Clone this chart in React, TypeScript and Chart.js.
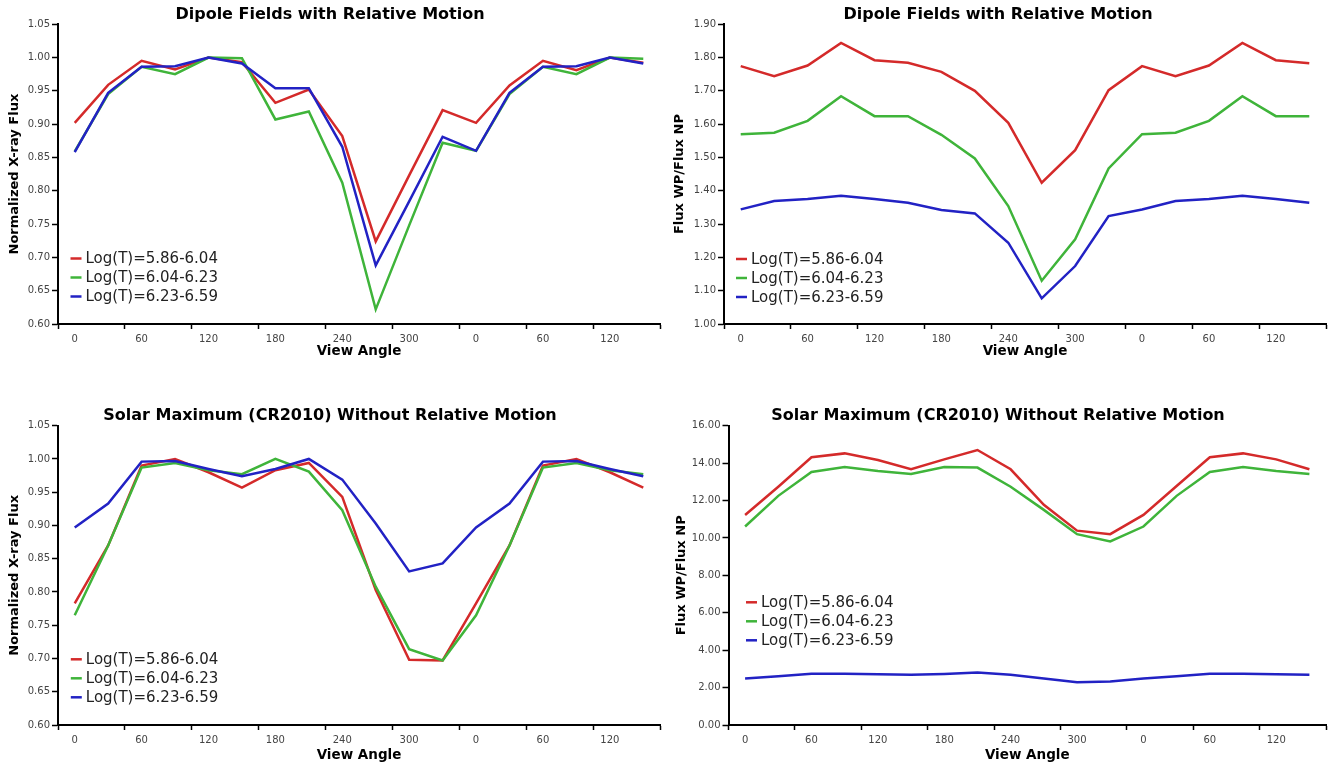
import React, { useEffect, useRef } from 'react';
import { Chart, registerables } from 'chart.js';

Chart.register(...registerables);
Chart.defaults.font.family = "'DejaVu Sans', Verdana, sans-serif";

// ---------- data ----------
const viewAngles = ['0', '30', '60', '90', '120', '150', '180', '210', '240', '270', '300', '330', '0', '30', '60', '90', '120', '150'];
const seriesLabels = ['Log(T)=5.86-6.04', 'Log(T)=6.04-6.23', 'Log(T)=6.23-6.59'];
const seriesColors = ['#d42a2a', '#3fb43a', '#2222c4'];

// Dipole fields with relative motion – normalized X-ray flux
const dipoleNormLow = [0.902, 0.959, 0.995, 0.982, 1.0, 0.993, 0.932, 0.952, 0.882, 0.724, 0.823, 0.921, 0.902, 0.958, 0.995, 0.981, 1.0, 0.992];
const dipoleNormMid = [0.859, 0.945, 0.986, 0.975, 1.0, 0.999, 0.907, 0.919, 0.812, 0.622, 0.748, 0.872, 0.86, 0.945, 0.986, 0.975, 1.0, 0.998];
const dipoleNormHigh = [0.858, 0.947, 0.986, 0.987, 1.0, 0.991, 0.954, 0.954, 0.866, 0.688, 0.784, 0.881, 0.86, 0.947, 0.986, 0.987, 1.0, 0.991];

// Dipole fields with relative motion – flux WP / flux NP
const dipoleRatioLow = [1.774, 1.744, 1.776, 1.844, 1.792, 1.784, 1.757, 1.7, 1.604, 1.424, 1.522, 1.702, 1.774, 1.744, 1.776, 1.844, 1.792, 1.783];
const dipoleRatioMid = [1.57, 1.574, 1.61, 1.684, 1.624, 1.624, 1.568, 1.497, 1.354, 1.13, 1.254, 1.467, 1.57, 1.574, 1.61, 1.684, 1.624, 1.624];
const dipoleRatioHigh = [1.344, 1.369, 1.375, 1.385, 1.375, 1.364, 1.342, 1.332, 1.244, 1.077, 1.174, 1.324, 1.344, 1.369, 1.375, 1.385, 1.375, 1.364];

// Solar maximum (CR2010) without relative motion – normalized X-ray flux
const solarNormLow = [0.783, 0.87, 0.99, 1.0, 0.98, 0.957, 0.983, 0.994, 0.943, 0.803, 0.698, 0.697, 0.783, 0.87, 0.99, 1.0, 0.98, 0.957];
const solarNormMid = [0.765, 0.87, 0.987, 0.994, 0.983, 0.977, 1.0, 0.981, 0.923, 0.808, 0.714, 0.697, 0.765, 0.87, 0.987, 0.994, 0.983, 0.977];
const solarNormHigh = [0.897, 0.933, 0.996, 0.997, 0.985, 0.974, 0.985, 1.0, 0.969, 0.903, 0.831, 0.843, 0.897, 0.933, 0.996, 0.997, 0.985, 0.974];

// Solar maximum (CR2010) without relative motion – flux WP / flux NP
const solarRatioLow = [11.23, 12.74, 14.31, 14.52, 14.17, 13.67, 14.2, 14.7, 13.67, 11.77, 10.39, 10.2, 11.23, 12.78, 14.31, 14.52, 14.2, 13.67];
const solarRatioMid = [10.61, 12.25, 13.53, 13.79, 13.58, 13.42, 13.79, 13.76, 12.74, 11.5, 10.2, 9.81, 10.61, 12.25, 13.53, 13.79, 13.58, 13.42];
const solarRatioHigh = [2.49, 2.6, 2.74, 2.74, 2.71, 2.69, 2.73, 2.8, 2.69, 2.49, 2.28, 2.33, 2.49, 2.6, 2.74, 2.74, 2.71, 2.69];

// ---------- legend drawn inside the plot area ----------
const insideLegendPlugin = {
  id: 'insideLegend',
  afterDraw(chart: any, _args: any, opts: any) {
    const { ctx, chartArea } = chart;
    ctx.save();
    ctx.font = "15px 'DejaVu Sans', Verdana, sans-serif";
    ctx.textBaseline = 'middle';
    ctx.textAlign = 'left';
    chart.data.datasets.forEach((ds: any, i: number) => {
      const x = chartArea.left + opts.dx;
      const y = chartArea.bottom + opts.dy + i * 19;
      ctx.strokeStyle = ds.borderColor;
      ctx.lineWidth = 2.5;
      ctx.beginPath();
      ctx.moveTo(x, y);
      ctx.lineTo(x + 11, y);
      ctx.stroke();
      ctx.fillStyle = '#222';
      ctx.fillText(ds.label, x + 15, y + 1);
    });
    ctx.restore();
  },
};

interface PanelProps {
  left: number;
  top: number;
  width: number;
  height: number;
  title: string;
  yTitle: string;
  series: number[][];
  yMin: number;
  yMax: number;
  yStep: number;
  yWidth: number;
  padRight: number;
  titleTop: number;
  titleBottom: number;
  xHeight: number;
  xTitleBottom: number;
  yTitlePad: number;
  legendDx: number;
  legendDy: number;
}

function Panel(p: PanelProps) {
  const ref = useRef<HTMLCanvasElement>(null);
  useEffect(() => {
    const chart = new Chart(ref.current as HTMLCanvasElement, {
      type: 'line',
      data: {
        labels: viewAngles,
        datasets: p.series.map((s, i) => ({
          label: seriesLabels[i],
          data: s,
          borderColor: seriesColors[i],
          backgroundColor: seriesColors[i],
          borderWidth: 2.5,
          pointRadius: 0,
          pointHoverRadius: 0,
          tension: 0,
          fill: false,
          order: 3 - i,
        })),
      },
      options: {
        animation: false,
        responsive: false,
        events: [],
        layout: { padding: { left: 0, right: p.padRight, top: 0, bottom: 0 } },
        plugins: {
          legend: { display: false },
          tooltip: { enabled: false },
          title: {
            display: true,
            text: p.title,
            color: '#000',
            font: { size: 16, weight: 'bold' },
            padding: { top: p.titleTop, bottom: p.titleBottom },
          },
          insideLegend: { dx: p.legendDx, dy: p.legendDy },
        } as any,
        scales: {
          x: {
            type: 'category',
            offset: true,
            afterFit: (s: any) => {
              s.height = p.xHeight;
            },
            grid: {
              offset: true,
              drawOnChartArea: false,
              drawTicks: true,
              tickLength: 5,
              tickWidth: 1.5,
              tickColor: (ctx: any) =>
                ctx.index === undefined || ctx.index % 2 === 0 ? '#000' : 'rgba(0,0,0,0)',
            },
            border: { display: true, color: '#000', width: 2 },
            ticks: {
              autoSkip: false,
              maxRotation: 0,
              padding: 4,
              color: '#444',
              font: { size: 10 },
              callback: (_v: any, i: number) => (i % 2 === 0 ? viewAngles[i] : ''),
            },
            title: {
              display: true,
              text: 'View Angle',
              color: '#000',
              font: { size: 13.5, weight: 'bold' },
              padding: { top: 0, bottom: p.xTitleBottom },
            },
          },
          y: {
            min: p.yMin,
            max: p.yMax,
            afterFit: (s: any) => {
              s.width = p.yWidth;
            },
            grid: {
              drawOnChartArea: false,
              drawTicks: true,
              tickLength: 6,
              tickWidth: 1.5,
              tickColor: '#000',
            },
            border: { display: true, color: '#000', width: 2 },
            ticks: {
              stepSize: p.yStep,
              padding: 2,
              color: '#444',
              font: { size: 10 },
              callback: (v: any) => Number(v).toFixed(2),
            },
            title: {
              display: true,
              text: p.yTitle,
              color: '#000',
              font: { size: 13, weight: 'bold' },
              padding: { top: p.yTitlePad, bottom: 0 },
            },
          },
        } as any,
      },
      plugins: [insideLegendPlugin],
    });
    return () => chart.destroy();
  }, []);
  return (
    <div style={{ position: 'absolute', left: p.left, top: p.top, width: p.width, height: p.height }}>
      <canvas ref={ref} width={p.width} height={p.height} style={{ width: p.width, height: p.height, display: 'block' }} />
    </div>
  );
}

export default function App() {
  return (
    <div style={{ position: 'absolute', left: 0, top: 0, width: 1340, height: 769, background: '#fff', overflow: 'hidden' }}>
      <Panel
        left={0} top={0} width={670} height={380}
        title="Dipole Fields with Relative Motion"
        yTitle="Normalized X-ray Flux"
        series={[dipoleNormLow, dipoleNormMid, dipoleNormHigh]}
        yMin={0.6} yMax={1.05} yStep={0.05}
        yWidth={58} padRight={10}
        titleTop={5} titleBottom={0}
        xHeight={56} xTitleBottom={20}
        yTitlePad={7}
        legendDx={12.5} legendDy={-65.5}
      />
      <Panel
        left={670} top={0} width={670} height={380}
        title="Dipole Fields with Relative Motion"
        yTitle="Flux WP/Flux NP"
        series={[dipoleRatioLow, dipoleRatioMid, dipoleRatioHigh]}
        yMin={1.0} yMax={1.9} yStep={0.1}
        yWidth={54} padRight={14}
        titleTop={5} titleBottom={0}
        xHeight={56} xTitleBottom={20}
        yTitlePad={2}
        legendDx={12} legendDy={-65}
      />
      <Panel
        left={0} top={390} width={670} height={379}
        title="Solar Maximum (CR2010) Without Relative Motion"
        yTitle="Normalized X-ray Flux"
        series={[solarNormLow, solarNormMid, solarNormHigh]}
        yMin={0.6} yMax={1.05} yStep={0.05}
        yWidth={58} padRight={10}
        titleTop={16.5} titleBottom={0}
        xHeight={44} xTitleBottom={5}
        yTitlePad={7}
        legendDx={12.8} legendDy={-65.7}
      />
      <Panel
        left={670} top={390} width={670} height={379}
        title="Solar Maximum (CR2010) Without Relative Motion"
        yTitle="Flux WP/Flux NP"
        series={[solarRatioLow, solarRatioMid, solarRatioHigh]}
        yMin={0} yMax={16} yStep={2}
        yWidth={58.5} padRight={14}
        titleTop={16.5} titleBottom={0}
        xHeight={44} xTitleBottom={5}
        yTitlePad={4}
        legendDx={17.5} legendDy={-122.7}
      />
    </div>
  );
}
